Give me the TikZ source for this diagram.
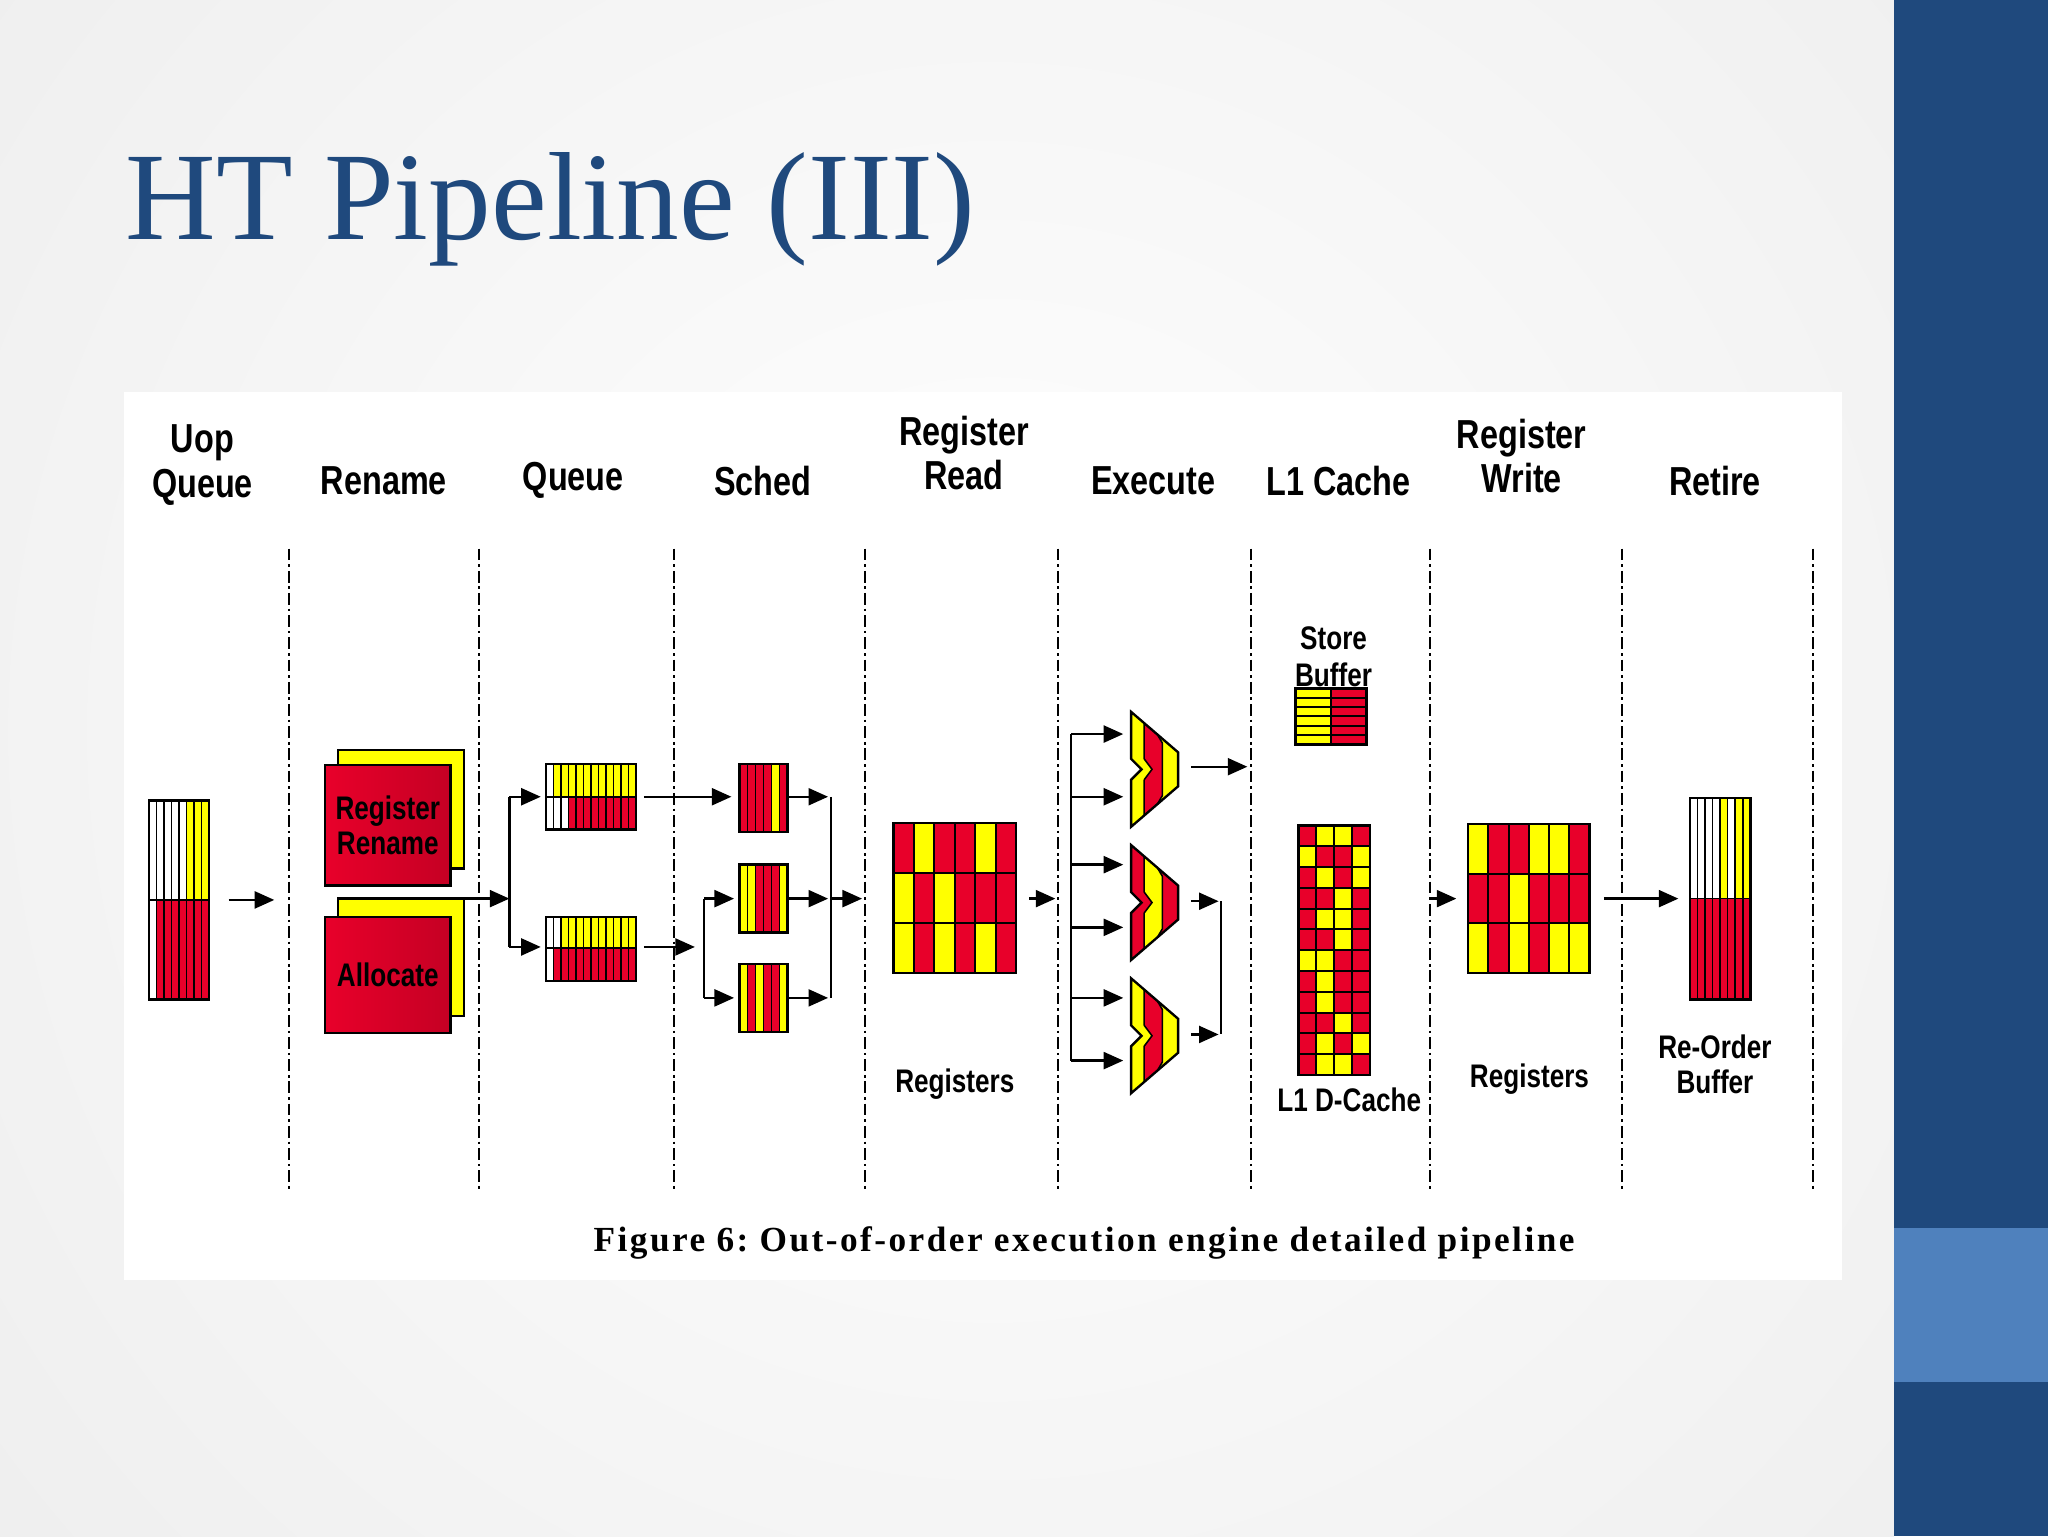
\documentclass[tikz,border=0pt]{standalone}
\usepackage{fontspec}
\setmainfont{Liberation Serif}
\newfontfamily\ttl{Liberation Serif}
\newfontfamily\hd[FakeStretch=0.8]{Liberation Sans}
\usetikzlibrary{arrows.meta}
\definecolor{Y}{RGB}{255,255,0}
\definecolor{R}{RGB}{232,0,42}
\definecolor{W}{RGB}{255,255,255}
\definecolor{navy}{RGB}{31,73,125}
\definecolor{lblue}{RGB}{79,129,189}
\newcommand\vstripes[5]{%
 \def\mylist{#5}\foreach \c [count=\n] in \mylist {\xdef\nn{\n}}%
 \foreach \c [count=\i] in \mylist {\pgfmathsetmacro\xa{#1+(#3-#1)*(\i-1)/\nn}\pgfmathsetmacro\xb{#1+(#3-#1)*\i/\nn}%
  \filldraw[fill=\c,draw=black,line width=1.2] (\xa,#2) rectangle (\xb,#4);}}
\newcommand\cgrid[6]{%
 \def\mylist{#6}\foreach \c [count=\n] in \mylist {\xdef\nn{\n}}%
 \pgfmathsetmacro\nr{\nn/#5}%
 \foreach \c [count=\i] in \mylist {\pgfmathsetmacro\cc{mod(\i-1,#5)}\pgfmathsetmacro\rr{floor((\i-1)/#5)}%
  \pgfmathsetmacro\xa{#1+(#3-#1)*\cc/#5}\pgfmathsetmacro\xb{#1+(#3-#1)*(\cc+1)/#5}%
  \pgfmathsetmacro\ya{#2+(#4-#2)*\rr/\nr}\pgfmathsetmacro\yb{#2+(#4-#2)*(\rr+1)/\nr}%
  \filldraw[fill=\c,draw=black,line width=1.5] (\xa,\ya) rectangle (\xb,\yb);}%
 \draw[line width=2] (#1,#2) rectangle (#3,#4);}
\newcommand\alu[4]{% y0, colA, colB, name
 \begin{scope}
 \path[clip] (866,#1) -- (902,#1+31) -- (902,#1+57) -- (866,#1+88) -- (866,#1+52) -- (874,#1+44) -- (866,#1+36) -- cycle;
 \fill[#2] (860,#1-2) rectangle (905,#1+90);
 \fill[#3] (876,#1) -- (890,#1+24) -- (890,#1+64) -- (876,#1+88) -- (876,#1+52) -- (882,#1+44) -- (876,#1+36) -- cycle;
 \draw[line width=1.2] (876,#1) -- (890,#1+24) -- (890,#1+64) -- (876,#1+88) (876,#1+52) -- (882,#1+44) -- (876,#1+36)(876,#1)--(876,#1+36) (876,#1+52)--(876,#1+88);
 \end{scope}
 \draw[line width=1.8] (866,#1) -- (902,#1+31) -- (902,#1+57) -- (866,#1+88) -- (866,#1+52) -- (874,#1+44) -- (866,#1+36) -- cycle;
 \coordinate (#4) at (902,#1+44);}
\tikzset{arr/.style={line width=1.8,-{Triangle[length=15,width=13]}},
 ln/.style={line width=1.8},
 sep/.style={line width=1.6,dash pattern=on 9pt off 3pt on 2pt off 3pt},
 hdr/.style={font=\hd\bfseries\fontsize{31}{34}\selectfont,align=center},
 lbl/.style={font=\hd\bfseries\fontsize{25}{27}\selectfont,align=center}}
\begin{document}
\begin{tikzpicture}[x=1pt,y=-1pt]
\useasboundingbox (0,0) rectangle (1568,1176);
\begin{scope}
\clip (0,0) rectangle (1450,1176);
\fill[gray!13] (0,0) rectangle (1450,1176);
\shade[inner color=white,outer color=gray!13] (760,560) circle (1000);
\end{scope}
\fill[navy] (1450,0) rectangle (1568,1176);
\fill[lblue] (1450,940) rectangle (1568,1058);
\fill[white] (95,300) rectangle (1410,980);
\node[anchor=base west,text=navy,font=\ttl\fontsize{96}{98}\selectfont,inner sep=0] (title) at (96,183) {HT Pipeline (III)};
% separators
\foreach \x in {221,367,516,662,810,958,1095,1242,1388} \draw[sep] (\x,420) -- (\x,910);
% headers
\node[hdr] (h1) at (155,356) {Uop\\Queue};
\node[hdr] (h2) at (294,368) {Rename};
\node[hdr] (h3) at (439,368) {Queue};
\node[hdr] (h4) at (584,368) {Sched};
\node[hdr] (h5) at (738,347) {Register\\Read};
\node[hdr] (h6) at (883,368) {Execute};
\node[hdr] (h7) at (1025,368) {L1 Cache};
\node[hdr] (h8) at (1165,349) {Register\\Write};
\node[hdr] (h9) at (1313,368) {Retire};
% uop queue
\vstripes{114}{613}{160}{689}{W,W,W,W,W,Y,Y,Y}
\vstripes{114}{689}{160}{765}{W,R,R,R,R,R,R,R}
\draw[line width=2] (114,613) rectangle (160,765);
\draw[arr] (175,689) -- (210,689);
% rename
\filldraw[fill=Y,line width=1.8] (259,574) rectangle (355,665);
\node[draw,line width=1.8,left color=R,right color=R!85!black,minimum width=96,minimum height=92,inner sep=0,anchor=north west,font=\hd\bfseries\fontsize{25}{27}\selectfont,align=center] (rr) at (248,585) {Register\\Rename};
\filldraw[fill=Y,line width=1.8] (259,688) rectangle (355,778);
\node[draw,line width=1.8,left color=R,right color=R!85!black,minimum width=96,minimum height=89,inner sep=0,anchor=north west,font=\hd\bfseries\fontsize{25}{27}\selectfont] (al) at (248,701) {Allocate};
\coordinate (j1) at (390,688);
\draw[arr] (355,688) -- (j1);
\draw[ln] (390,610) -- (390,725);
\draw[arr] (390,610) -- (414,610);
\draw[arr] (390,725) -- (414,725);
% queues
\vstripes{418}{585}{487}{610}{W,Y,Y,Y,Y,Y,Y,Y,Y,Y,Y,Y}
\vstripes{418}{610}{487}{635}{W,W,W,R,R,R,R,R,R,R,R,R}
\draw[line width=2] (418,585) rectangle (487,635);
\vstripes{418}{702}{487}{726}{W,W,Y,Y,Y,Y,Y,Y,Y,Y,Y,Y}
\vstripes{418}{726}{487}{751}{W,R,R,R,R,R,R,R,R,R,R,R}
\draw[line width=2] (418,702) rectangle (487,751);
\draw[arr] (493,610) -- (560,610);
\draw[arr] (493,725) -- (532,725);
\draw[ln] (539,688) -- (539,764);
\draw[arr] (539,688) -- (562,688);
\draw[arr] (539,764) -- (562,764);
% sched
\vstripes{566}{585}{603}{637}{R,R,R,R,Y,R}
\draw[line width=2] (566,585) rectangle (603,637);
\vstripes{566}{662}{603}{714}{Y,Y,R,R,R,Y}
\draw[line width=2] (566,662) rectangle (603,714);
\vstripes{566}{738}{603}{790}{Y,R,Y,R,R,Y}
\draw[line width=2] (566,738) rectangle (603,790);
\foreach \y in {610,688,764} \draw[arr] (603,\y) -- (634,\y);
\draw[ln] (636,610) -- (636,764);
\draw[arr] (636,688) -- (660,688);
% register read
\cgrid{684}{630}{778}{745}{6}{R,Y,R,R,Y,R, Y,R,Y,R,R,R, Y,R,Y,R,Y,R}
\draw[arr] (788,688) -- (808,688);
\node[lbl] (rl1) at (731,830) {Registers};
% execute
\draw[ln] (820,562) -- (820,812);
\foreach \y in {562,610,662,710,764,812} \draw[arr] (820,\y) -- (860,\y);
\alu{545}{Y}{R}{a1}
\alu{647}{R}{Y}{a2}
\alu{749}{Y}{R}{a3}
\draw[arr] (912,587) -- (955,587);
\draw[arr] (912,690) -- (933,690);
\draw[arr] (912,792) -- (933,792);
\draw[ln] (935,690) -- (935,792);
% L1
\node[lbl] (sb) at (1021,489) {Store};
\cgrid{992}{527}{1046}{570}{2}{Y,R,Y,R,Y,R,Y,R,Y,R,Y,R}
\node[lbl] (sb2) at (1021,517) {Buffer};
\cgrid{994}{632}{1049}{823}{4}{R,Y,Y,R, Y,R,R,Y, R,Y,R,Y, R,R,Y,R, R,Y,Y,R, R,R,Y,R, Y,Y,R,R, R,Y,R,R, R,Y,R,R, R,R,Y,R, R,Y,R,Y, R,Y,Y,R}
\node[lbl] (dc) at (1033,842) {L1 D-Cache};
% register write
\draw[arr] (1095,688) -- (1115,688);
\cgrid{1124}{631}{1217}{745}{6}{Y,R,R,Y,Y,R, R,R,Y,R,R,R, Y,R,Y,R,Y,Y}
\node[lbl] (rl2) at (1171,826) {Registers};
% retire
\draw[arr] (1228,688) -- (1285,688);
\vstripes{1294}{611}{1340}{688}{W,W,W,W,Y,W,Y,Y}
\vstripes{1294}{688}{1340}{765}{R,R,R,R,R,R,R,R}
\draw[line width=2] (1294,611) rectangle (1340,765);
\node[lbl] (rob) at (1313,815) {Re-Order\\Buffer};
% caption
\node[font=\bfseries\fontsize{27}{29}\selectfont\addfontfeature{LetterSpace=7}] (cap) at (830,952) {Figure 6:\ Out-of-order execution engine detailed pipeline};
\end{tikzpicture}
\end{document}
